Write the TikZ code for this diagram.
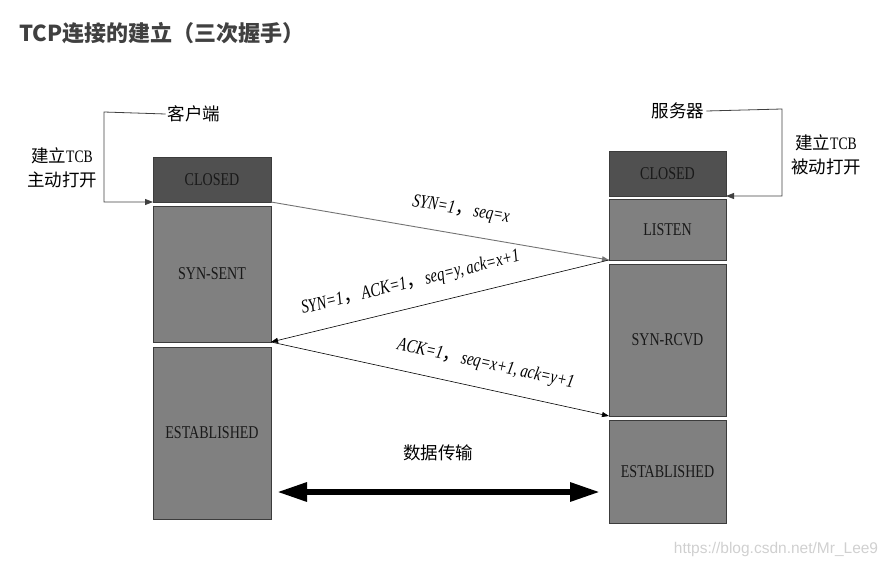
\documentclass[tikz,border=0pt]{standalone}
\usepackage{fontspec}
\setmainfont{Liberation Serif}
\newfontfamily\cjk{Noto Sans CJK SC}
\newfontfamily\boxfont{Liberation Serif}[FakeStretch=0.78]
\newfontfamily\webfont{Liberation Sans}
\usetikzlibrary{arrows.meta, positioning}
\definecolor{darkbox}{RGB}{80, 80, 80}
\definecolor{midbox}{RGB}{128, 128, 128}
\definecolor{boxline}{RGB}{60, 60, 60}
\definecolor{titlegray}{RGB}{64, 64, 64}
\definecolor{marklight}{RGB}{208, 208, 208}

\begin{document}
\begin{tikzpicture}[x=1pt, y=-1pt,
            stbox/.style={draw=boxline, fill=midbox, inner sep=0pt, outer sep=0pt, minimum width=118pt, font=\boxfont\fontsize{18}{21}\selectfont, text=black!90},
            closedbox/.style={stbox, fill=darkbox},
            msg/.style={-{Triangle[length=7pt, width=5pt]}, black, line width=0.6pt},
            msglabel/.style={sloped, above=12pt, text=black, font=\boxfont\itshape\fontsize{19}{21}\selectfont},
            cn/.style={font=\cjk\fontsize{17.5}{24}\selectfont, align=center, inner sep=2pt},
            bracket/.style={-{Triangle[length=8pt, width=6pt]}, black!75, line width=0.8pt},
            dataarrow/.style={{Triangle[length=30pt, width=18pt]}-{Triangle[length=30pt, width=18pt]}, line width=6pt, black}
        ]
            \useasboundingbox (0,0) rectangle (890,567);

            \node[anchor=west, text=titlegray, font=\cjk\bfseries\fontsize{22}{26}\selectfont] (title) at (16,33) {TCP连接的建立（三次握手）};

            % client side
            \node[closedbox, minimum height=45pt] (cclosed) at (212,179.5) {CLOSED};
            \node[stbox, minimum height=136pt, below=4pt of cclosed] (csent) {SYN-SENT};
            \node[stbox, minimum height=172pt, below=5pt of csent] (cest) {ESTABLISHED};

            % server side
            \node[closedbox, minimum width=117pt, minimum height=45pt] (sclosed) at (667.5,173.5) {CLOSED};
            \node[stbox, minimum width=117pt, minimum height=61pt, below=3pt of sclosed] (slisten) {LISTEN};
            \node[stbox, minimum width=117pt, minimum height=152pt, below=4pt of slisten] (srcvd) {SYN-RCVD};
            \node[stbox, minimum width=117pt, minimum height=103pt, below=4pt of srcvd] (sest) {ESTABLISHED};

            \node[cn] (clientlbl) at (194,114) {客户端};
            \node[cn] (serverlbl) at (678,111) {服务器};
            \node[cn] (activeopen) at (62,168) {建立{\boxfont TCB}\\主动打开};
            \node[cn] (passiveopen) at (826,155) {建立{\boxfont TCB}\\被动打开};

            \coordinate (cbend) at (104,112);
            \coordinate (sbend) at (782,109);
            \draw[bracket] (clientlbl.west) -- (cbend) |- (cclosed.south west);
            \draw[bracket] (serverlbl.east) -- (sbend) |- (sclosed.south east);

            % three messages
            \draw[msg, black!55, line width=0.9pt] (cclosed.south east) -- (slisten.south west)
                node[msglabel, pos=0.55] {SYN=1{\cjk ，}seq=x};
            \draw[msg] (slisten.south west) -- (csent.south east)
                node[msglabel, pos=0.57] {SYN=1{\cjk ，}ACK=1{\cjk ，}seq=y,\,ack=x+1};
            \draw[msg] (csent.south east) -- (srcvd.south west)
                node[msglabel, pos=0.62] {ACK=1{\cjk ，}seq=x+1,\,ack=y+1};

            % data transfer
            \coordinate (dleft) at (277,492);
            \coordinate (dright) at (600,492);
            \draw[dataarrow] (dleft) -- (dright);
            \node[cn] (datalbl) at (438,453) {数据传输};

            \node[text=marklight, font=\webfont\fontsize{15.5}{17}\selectfont] (mark) at (776,549) {https://blog.csdn.net/Mr\_Lee9};
        \end{tikzpicture}
\end{document}
